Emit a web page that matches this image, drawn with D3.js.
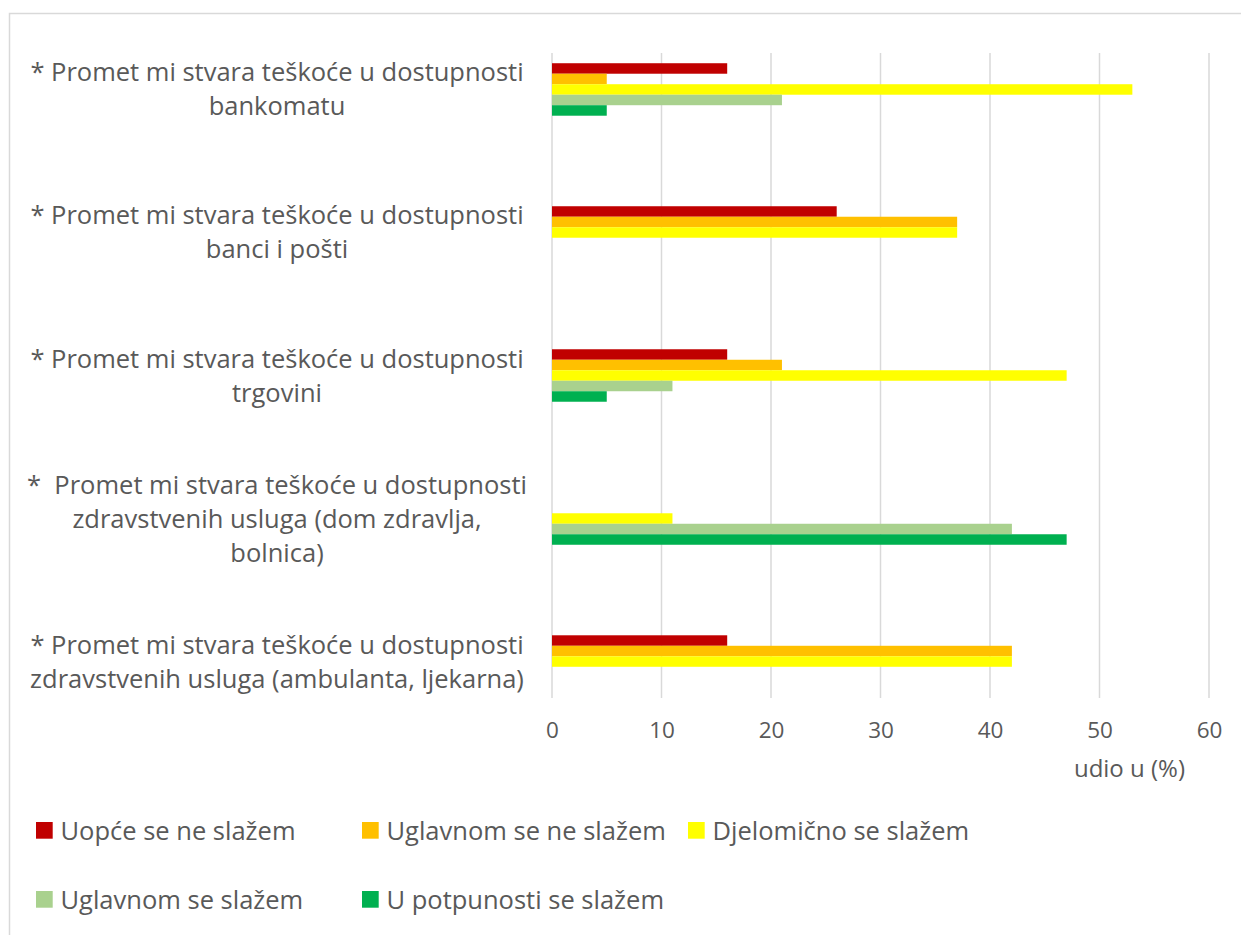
<!DOCTYPE html>
<html>
<head>
<meta charset="utf-8">
<script src="https://cdn.jsdelivr.net/npm/d3@7"></script>
<style>
  html, body { margin: 0; padding: 0; background: #fff; }
  svg { display: block; }
  text { font-family: "Open Sans", Lato, sans-serif; fill: #595959; }
</style>
</head>
<body>
<svg id="chart" width="1241" height="935"></svg>
<script>
// ---- data ----
const categories = [
  ["* Promet mi stvara teškoće u dostupnosti", "bankomatu"],
  ["* Promet mi stvara teškoće u dostupnosti", "banci i pošti"],
  ["* Promet mi stvara teškoće u dostupnosti", "trgovini"],
  ["*  Promet mi stvara teškoće u dostupnosti", "zdravstvenih usluga (dom zdravlja,", "bolnica)"],
  ["* Promet mi stvara teškoće u dostupnosti", "zdravstvenih usluga (ambulanta, ljekarna)"]
];
const seriesNames = ["Uopće se ne slažem", "Uglavnom se ne slažem", "Djelomično se slažem", "Uglavnom se slažem", "U potpunosti se slažem"];
const seriesColors = ["#C00000", "#FFC000", "#FFFF00", "#A9D18E", "#00B050"];
const uopceSeNeSlazem      = [16, 26, 16, 0, 16];
const uglavnomSeNeSlazem   = [5, 37, 21, 0, 42];
const djelomicnoSeSlazem   = [53, 37, 47, 11, 42];
const uglavnomSeSlazem     = [21, 0, 11, 42, 0];
const uPotpunostiSeSlazem  = [5, 0, 5, 47, 0];
const seriesValues = [uopceSeNeSlazem, uglavnomSeNeSlazem, djelomicnoSeSlazem, uglavnomSeSlazem, uPotpunostiSeSlazem];
const xTicks = [0, 10, 20, 30, 40, 50, 60];
const axisTitle = "udio u (%)";

// ---- layout ----
const svg = d3.select("#chart");
const plot = { left: 552, right: 1209, top: 53, bottom: 698 };
const gridColor = "#d9d9d9";
const fontMain = "25.5px";

// outer chart border
svg.append("rect")
  .attr("x", 9.5).attr("y", 13.5)
  .attr("width", 1240).attr("height", 930)
  .attr("fill", "none").attr("stroke", gridColor).attr("stroke-width", 1.5);

const x = d3.scaleLinear().domain([0, 60]).range([plot.left, plot.right]);
const y = d3.scaleBand()
  .domain(d3.range(categories.length))
  .range([plot.top, plot.bottom])
  .paddingInner(0.633)
  .paddingOuter(0.0715);
const ySub = d3.scaleBand()
  .domain(d3.range(seriesNames.length))
  .range([0, y.bandwidth()]);

// gridlines
svg.append("g").selectAll("line").data(xTicks).join("line")
  .attr("x1", d => x(d)).attr("x2", d => x(d))
  .attr("y1", plot.top).attr("y2", plot.bottom)
  .attr("stroke", gridColor).attr("stroke-width", 1.5);

// x axis tick labels
const xAxis = d3.axisBottom(x).tickValues(xTicks).tickSize(0).tickPadding(0);
const gx = svg.append("g").attr("transform", `translate(0,${plot.bottom})`).call(xAxis);
gx.select(".domain").remove();
gx.selectAll("text")
  .attr("dy", null).attr("y", 40)
  .style("font-family", "'Open Sans', Lato, sans-serif")
  .style("font-size", "22.5px")
  .attr("fill", "#595959");

// axis title
svg.append("text")
  .attr("x", 1185).attr("y", 777)
  .attr("text-anchor", "end")
  .style("font-size", "24px")
  .text(axisTitle);

// bars
seriesValues.forEach((vals, si) => {
  svg.append("g").selectAll("rect").data(vals).join("rect")
    .attr("x", x(0))
    .attr("y", (d, i) => y(i) + ySub(si))
    .attr("width", d => x(d) - x(0))
    .attr("height", ySub.bandwidth())
    .attr("fill", seriesColors[si]);
});

// category labels
const lineH = 34;
const labelCenterX = 277;
categories.forEach((lines, i) => {
  const cy = y(i) + y.bandwidth() / 2;
  const t = svg.append("text")
    .attr("text-anchor", "middle")
    .style("font-size", fontMain);
  lines.forEach((ln, k) => {
    t.append("tspan")
      .attr("x", labelCenterX)
      .attr("y", cy + (k - (lines.length - 1) / 2) * lineH + 9)
      .attr("xml:space", "preserve")
      .text(ln);
  });
});

// legend
const legendPos = [
  { x: 36, y: 822 }, { x: 362, y: 822 }, { x: 688, y: 822 },
  { x: 36, y: 891 }, { x: 362, y: 891 }
];
seriesNames.forEach((name, i) => {
  const p = legendPos[i];
  const g = svg.append("g").attr("transform", `translate(${p.x},${p.y})`);
  g.append("rect").attr("width", 16.7).attr("height", 16.7).attr("fill", seriesColors[i]);
  g.append("text").attr("x", 24.5).attr("y", 17.5)
    .style("font-size", fontMain).text(name);
});
</script>
</body>
</html>
